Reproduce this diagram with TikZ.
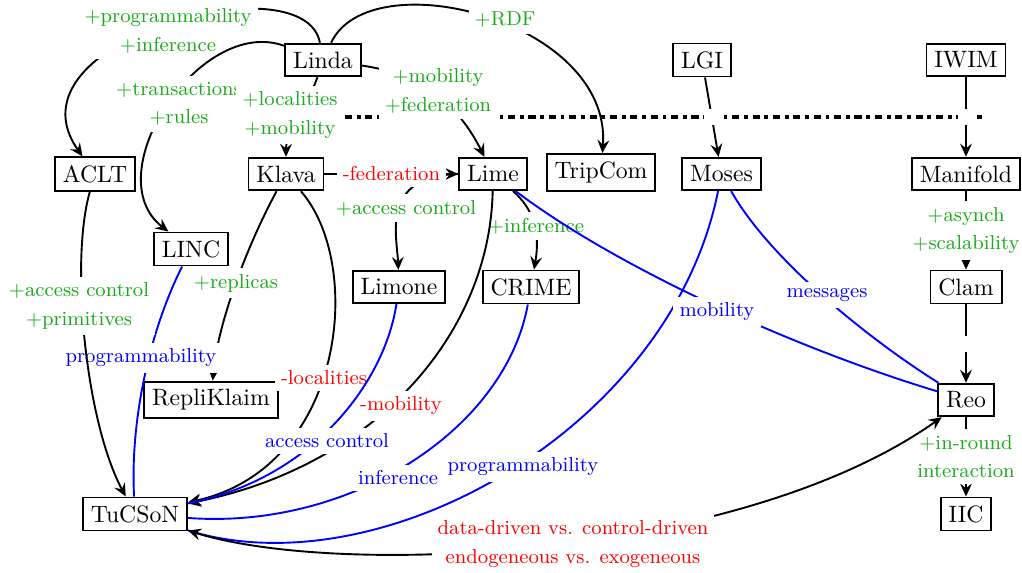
\documentclass[tikz,border=0pt]{standalone}
\usetikzlibrary{arrows.meta}
\definecolor{plusgreen}{RGB}{25,170,25}
\begin{document}
\begin{tikzpicture}[x=0.422pt,y=-0.422pt,
  sys/.style={draw,thick,rectangle},
  lbl/.style={font=\fontsize{8.5}{10.2}\selectfont,fill=white,align=center,inner sep=2.6pt},
  plus/.style={lbl,text=plusgreen},
  minus/.style={lbl,text=red},
  sim/.style={lbl,text=blue},
  tipa/.tip={Stealth[length=5.5pt,width=5pt,inset=2pt]},
  evo/.style={thick,-tipa},
  evoboth/.style={thick,tipa-tipa},
  rel/.style={thick,blue},
  gapnode/.style={fill=white},
  sepline/.style={ultra thick,dashdotted}]
\useasboundingbox (0,0) rectangle (1022,573);

% systems
\node[sys] (Linda) at (323,60) {Linda};
\node[sys] (LGI) at (702,60) {LGI};
\node[sys] (IWIM) at (966,60) {IWIM};
\node[sys] (ACLT) at (95,174) {ACLT};
\node[sys] (Klava) at (286,174) {Klava};
\node[sys] (Lime) at (493,174) {Lime};
\node[sys] (TripCom) at (601,172.5) {TripCom};
\node[sys] (Moses) at (721.5,174) {Moses};
\node[sys] (Manifold) at (966,174) {Manifold};
\node[sys] (LINC) at (191,249) {LINC};
\node[sys] (Limone) at (399,287) {Limone};
\node[sys] (CRIME) at (531,287) {CRIME};
\node[sys] (Clam) at (966,287) {Clam};
\node[sys] (RepliKlaim) at (211,400) {RepliKlaim};
\node[sys] (Reo) at (966,400) {Reo};
\node[sys] (TuCSoN) at (135,514) {TuCSoN};
\node[sys] (IIC) at (966,514) {IIC};

% separator
\coordinate (sepL) at (345,117);
\coordinate (sepR) at (982,117);
\draw[sepline] (sepL) -- (sepR);

% evolution from Linda
\draw[evo] (Linda) .. controls (305,-40) and (0,40) .. (ACLT)
  node[plus] (l1) at (168,31) {+programmability\\[1.8pt]+inference};
\draw[evo] (Linda) .. controls (200,15) and (95,175) .. (LINC)
  node[plus] (l2) at (179,104) {+transactions\\[1.8pt]+rules};
\draw[evo] (Linda) .. controls (310,100) and (286,130) .. (Klava)
  node[plus] (l3) at (290,115) {+localities\\[1.8pt]+mobility};
\draw[evo] (Linda) .. controls (421,74) and (458,104) .. (Lime)
  node[plus] (l4) at (438,91) {+mobility\\[1.8pt]+federation};
\draw[evo] (Linda) .. controls (370,-40) and (612,20) .. (TripCom)
  node[plus] (l5) at (505,20) {+RDF};
\draw[evo] (LGI) -- node[gapnode] (g1) {} (Moses);
\draw[evo] (IWIM) -- node[gapnode] (g2) {} (Manifold);

% second row
\draw[evo] (Lime.west) .. controls (380,176) and (397,235) .. (Limone)
  node[plus] (l7) at (406,208) {+access control};
\draw[evo] (Klava) -- node[minus] (l6) {-federation} (Lime);
\draw[evo] (Lime) .. controls (535,210) and (540,235) .. (CRIME)
  node[plus] (l8) at (536,226) {+inference};
\draw[evo] (Manifold) -- node[plus] (l9) {+asynch\\[1.8pt]+scalability} (Clam);
\draw[evo] (Clam) -- node[gapnode] (g3) {} (Reo);
\draw[evo] (Reo) -- node[plus] (l10) {+in-round\\[1.8pt]interaction} (IIC);

% towards RepliKlaim and TuCSoN
\draw[evo] (Klava) .. controls (250,240) and (218,320) .. (RepliKlaim)
  node[plus] (l12) at (236,283) {+replicas};
\draw[rel] (LINC) .. controls (150,330) and (130,420) .. (TuCSoN)
  node[sim] (l13) at (141,358) {programmability};
\draw[evo] (ACLT) .. controls (70,260) and (85,420) .. (TuCSoN)
  node[plus] (l11) at (79,306) {+access control\\[1.8pt]+primitives};
\draw[evo] (Klava) .. controls (365,265) and (345,468) .. (TuCSoN)
  node[minus] (l14) at (324,378) {-localities};
\draw[evo] (Lime) .. controls (490,330) and (380,465) .. (TuCSoN)
  node[minus] (l15) at (401,406) {-mobility};
\draw[rel] (Limone) .. controls (385,380) and (315,478) .. (TuCSoN)
  node[sim] (l16) at (327,441) {access control};
\draw[rel] (CRIME) .. controls (505,430) and (350,530) .. (TuCSoN)
  node[sim] (l17) at (398,478) {inference};
\draw[rel] (Moses) .. controls (670,430) and (380,590) .. (TuCSoN)
  node[sim] (l18) at (523,467) {programmability};
\draw[rel] (Lime) .. controls (620,270) and (800,350) .. (Reo)
  node[sim] (l19) at (717,312) {mobility};
\draw[rel] (Moses) .. controls (770,260) and (870,340) .. (Reo)
  node[sim] (l20) at (827,295) {messages};
\draw[evoboth] (TuCSoN) .. controls (340,578) and (740,560) .. (Reo)
  node[minus] (l21) at (573,544) {data-driven vs. control-driven\\[1.8pt]endogeneous vs. exogeneous};
\end{tikzpicture}
\end{document}
